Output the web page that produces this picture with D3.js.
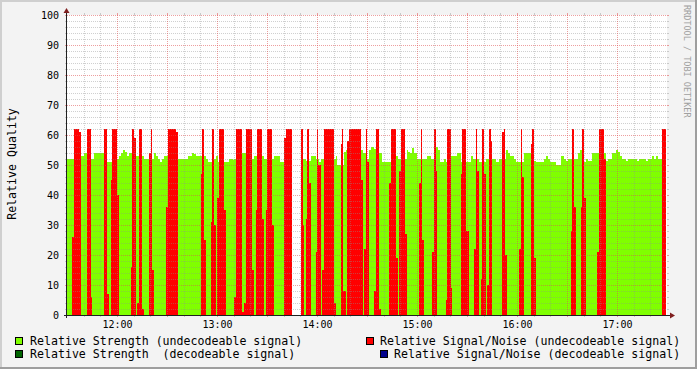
<!DOCTYPE html>
<html>
<head>
<meta charset="utf-8">
<script src="https://cdn.jsdelivr.net/npm/d3@7"></script>
<style>
  body { margin: 0; background: #f3f3f3; }
  text { font-family: "DejaVu Sans Mono", monospace; white-space: pre; }
</style>
</head>
<body>
<div id="chart"></div>
<script>
// [minutes after 11:30, value] -- each value holds until the next entry
var strengthSteps = [
  [0,52],[8.4,53],[10.2,54],[12,52],[16.4,54],[24,51],[30,52],[31.2,53],[32.4,54],[33.6,55],[34.8,54.3],[36,53],
  [37.2,54],[41.4,53],[46.2,52],[52.2,54],[53.4,53],[54.6,52],[55.8,51],[57,52],[58.2,53],[66.6,52],
  [72.6,53],[75,54],[76.2,53.7],[77.4,53],[83.4,52],[84.6,51],[88.2,52],[89.4,53],[90.6,51],[97,52],[99.4,51.7],
  [100.2,52],[105,54],[111,52],[112.2,53],[118.2,52],[124.2,53],[127.8,51],[135,0],[140.4,52],
  [143.4,51.3],[146.4,53],[149.4,52],[151.2,51],[152.4,52],[161.4,53],[162,50],[166.2,54.3],[167.4,55],[177.6,54],
  [180,52],[181.2,55],[182.4,56],[184.2,55.3],[187.2,54],[189,51],[197.4,53],[198.6,52],[204,55],[204.6,54.3],
  [205.8,54],[207,55.7],[208.2,54],[210,52],
  [216,53],[218.4,52],[221.4,56],[222.6,55],[223.8,51],[226.2,52],[227.4,51],[230.4,53],[234,54],[236.4,51],
  [242.4,53],[243.6,52],[247.2,51],[251.4,52],[257.4,51],[259.2,52],[263.4,55],[264.6,54],[265.8,53],[268.2,52],
  [269.4,51],[274.2,54],[280.2,51.3],[281.4,51],[286.2,52],
  [287.4,53],[288.6,52],[289.8,51],[293.4,50],[296.4,53],[298.2,52],[299.4,51.3],[300.6,52],[306.6,54],[307.8,55],
  [310.2,51],[311.4,52],[312.6,51.3],[315,54],[323.4,51.3],[324.6,52],[327,54],[329.4,55],[330.6,54.3],[331.8,53],
  [333,52],[335.4,51.3],[336.6,52],[342,51.3],[343.2,52],[347.4,51.3],[348.6,52],[351,53],[352.2,52],[353.4,53],
  [354.6,52],[359.4,52]
];

var snrSteps = [
  [0,0],[3,26],[4.2,62],[7.4,61],[8.4,0],[12,62],[14.4,6],[15,0],[22.2,62],[24,7],[25.2,0],[26.4,45],[27,62],
  [30,40],[31.2,0],[38.4,16],[39,62],[40.2,59],[41.4,0],[42,4],[43.2,62],[45,2],[46.2,0],[49.2,54],[50.4,62],
  [51,15],[52.2,0],[59.4,36],[60.6,62],[65.4,61],[66.6,0],
  [80.4,47],[81,62],[82.2,25],[83.4,0],[86.4,31],[87,62],[88.2,30],[89.4,0],[89.8,39],[91.2,62],[94.2,35],[95.4,0],
  [100.2,6],[101.4,62],[105,1],[106.2,4],[107.4,62],[110.8,15],[112.2,0],[113.4,35],[114,62],[117,32],[118.2,0],
  [119.4,35],[120,62],[123,30],[124.2,0],[130.2,59],[131.4,62],[135,0],[140.4,62],[141.4,30],[142.2,0],
  [143.4,32],[144,62],[145.2,44],[146.4,0],[149.4,21],[150,62],[150.6,50],[152.4,0],[153,15],[154.2,62],[160.2,4],
  [161.4,0],[164.4,57],[165,62],[165.6,8],[167.4,0],[168,58],[169.2,62],[176.4,45],[177.6,0],[178.2,22],[179.4,62],
  [180,51],[181.2,0],[184.2,8],[185.4,62],[187.2,2],[188.4,0],[193.2,44],[194.4,62],[197.4,19],[198.6,0],[199.2,48],
  [200.4,62],[202.8,27],[204,0],[211.2,44],[212.4,62],[213,25],[214.2,0],
  [219,21],[220.2,62],[221.4,48],[222,0],[227.4,5],[228,62],[230.4,9],[231,0],[236.4,47],[237,62],[239.4,28],
  [241.2,0],[244.2,22],[245.4,62],[246,48],[247.2,0],[248.4,12],[249,62],[250.2,47],[251.4,0],[252,10],[253.2,62],
  [254.4,58],[255,0],[261,61],[262.2,62],[262.8,20],[264,0],[271.2,22],[272.4,62],[273,46],[274.2,0],[278.4,57],
  [279,62],[280.2,19],[281.4,0],
  [302.4,28],[303,62],[304.2,36],[305.4,0],[308.4,36],[309,62],[310.2,39],[311.4,0],[318,21],[319.2,62],[322.2,52],
  [323.4,0],[357,62],[359.4,0]
];

var yTicks = [0, 10, 20, 30, 40, 50, 60, 70, 80, 90, 100];
var hourTicks = ["12:00", "13:00", "14:00", "15:00", "16:00", "17:00"];
var legendLabels = [
  "Relative Strength (undecodeable signal)",
  "Relative Signal/Noise (undecodeable signal)",
  "Relative Strength  (decodeable signal)",
  "Relative Signal/Noise (decodeable signal)"
];

var W = 697, H = 369;
var plotL = 67, plotR = 667, plotT = 15, plotB = 315;
var colors = ["#80ff00", "#ff0000", "#006400", "#00008b"];

var start = new Date(2011, 0, 1, 11, 30);
function t(m) { return new Date(+start + m * 60000); }
function hm(s) { var p = s.split(":"); return new Date(2011, 0, 1, +p[0], +p[1]); }

var x = d3.scaleTime().domain([start, t(360)]).range([plotL, plotR]);
var y = d3.scaleLinear().domain([0, 100]).range([plotB, plotT]);

var svg = d3.select("#chart").append("svg")
    .attr("width", W)
    .attr("height", H)
    .style("display", "block");

// frame
svg.append("rect").attr("width", W).attr("height", H).attr("fill", "#f3f3f3");
svg.append("path").attr("d", "M0,1H" + (W - 1) + "M1,0V" + (H - 1))
    .attr("stroke", "#cfcfcf").attr("stroke-width", 2);
svg.append("path").attr("d", "M0," + (H - 1) + "H" + W + "M" + (W - 1) + ",0V" + H)
    .attr("stroke", "#9e9e9e").attr("stroke-width", 2);

// canvas
svg.append("rect")
    .attr("x", plotL).attr("y", plotT)
    .attr("width", plotR - plotL).attr("height", plotB - plotT)
    .attr("fill", "#fff");

var area = d3.area()
    .curve(d3.curveStepAfter)
    .x(function(d) { return x(t(d[0])); })
    .y0(y(0))
    .y1(function(d) { return y(d[1]); });

svg.append("path").datum(strengthSteps)
    .attr("fill", colors[0])
    .attr("shape-rendering", "crispEdges")
    .attr("d", area);

svg.append("path").datum(snrSteps)
    .attr("fill", colors[1])
    .attr("shape-rendering", "crispEdges")
    .attr("d", area);

// grid, drawn on top like rrdtool does
var minorCol = "rgba(143,143,143,0.42)", majorCol = "rgba(222,80,80,0.55)";
var grid = svg.append("g").attr("shape-rendering", "crispEdges");

var minorX = x.ticks(d3.timeMinute.every(10)).filter(function(d) { return d.getMinutes() % 30 != 0; });
var majorX = x.ticks(d3.timeMinute.every(30)).filter(function(d) { return +d > +start && +d < +t(360); });
var minorY = d3.range(2, 100, 2).filter(function(v) { return v % 10 != 0; });
var majorY = yTicks.filter(function(v) { return v > 0; });

function vlines(vals, col) {
  vals.forEach(function(d) {
    var px = Math.round(x(d)) + 0.5;
    grid.append("line").attr("x1", px).attr("x2", px).attr("y1", plotT).attr("y2", plotB)
        .attr("stroke", col).attr("stroke-dasharray", "1,1");
    grid.append("line").attr("x1", px).attr("x2", px).attr("y1", plotB).attr("y2", plotB + 2)
        .attr("stroke", col);
    grid.append("line").attr("x1", px).attr("x2", px).attr("y1", plotT - 2).attr("y2", plotT)
        .attr("stroke", col);
  });
}
function hlines(vals, col) {
  vals.forEach(function(v) {
    var py = Math.round(y(v)) + 0.5;
    grid.append("line").attr("x1", plotL).attr("x2", plotR).attr("y1", py).attr("y2", py)
        .attr("stroke", col).attr("stroke-dasharray", "1,1");
    grid.append("line").attr("x1", plotL - 2).attr("x2", plotL).attr("y1", py).attr("y2", py)
        .attr("stroke", col);
    grid.append("line").attr("x1", plotR).attr("x2", plotR + 2).attr("y1", py).attr("y2", py)
        .attr("stroke", col);
  });
}
vlines(minorX, minorCol);
hlines(minorY, minorCol);
vlines(majorX, majorCol);
hlines(majorY, majorCol);

// axes lines + arrows
svg.append("line").attr("x1", plotL - 0.5).attr("x2", plotL - 0.5).attr("y1", 11).attr("y2", plotB + 3)
    .attr("stroke", "#202020");
svg.append("line").attr("x1", plotL - 3).attr("x2", plotR + 5).attr("y1", plotB + 0.5).attr("y2", plotB + 0.5)
    .attr("stroke", "#202020");
svg.append("path").attr("d", "M" + (plotL - 3.5) + ",13L" + (plotL - 0.5) + ",8L" + (plotL + 2.5) + ",13Z")
    .attr("fill", "#7f1f1f");
svg.append("path").attr("d", "M" + (plotR + 3) + "," + (plotB - 2.5) + "L" + (plotR + 8) + "," + (plotB + 0.5) +
    "L" + (plotR + 3) + "," + (plotB + 3.5) + "Z")
    .attr("fill", "#7f1f1f");

// tick labels
var yAxis = svg.append("g")
    .attr("transform", "translate(" + plotL + ",0)")
    .call(d3.axisLeft(y).tickValues(yTicks).tickSize(0).tickPadding(8).tickFormat(d3.format("d")));
yAxis.select(".domain").remove();
yAxis.selectAll("text").attr("font-family", "DejaVu Sans Mono").attr("font-size", 10).attr("fill", "#000");

var xAxis = svg.append("g")
    .attr("transform", "translate(0," + plotB + ")")
    .call(d3.axisBottom(x).tickValues(hourTicks.map(hm)).tickSize(0).tickPadding(6)
        .tickFormat(d3.timeFormat("%H:%M")));
xAxis.select(".domain").remove();
xAxis.selectAll("text").attr("font-family", "DejaVu Sans Mono").attr("font-size", 10).attr("fill", "#000");

// vertical title
svg.append("text")
    .attr("transform", "translate(15.5,164) rotate(-90)")
    .attr("text-anchor", "middle")
    .attr("font-size", 11.6)
    .text("Relative Quality");

// watermark
svg.append("text")
    .attr("transform", "translate(684,5) rotate(90)")
    .attr("font-size", 8.5)
    .attr("fill", "#a0a0a0")
    .text("RRDTOOL / TOBI OETIKER");

// legend
var legendPos = [[15, 30, 345], [366, 380, 345], [15, 30, 358], [380, 394, 358]];
legendLabels.forEach(function(label, i) {
  var p = legendPos[i];
  svg.append("rect")
      .attr("x", p[0] + 0.5).attr("y", p[2] - 7.5)
      .attr("width", 7).attr("height", 7)
      .attr("fill", colors[i]).attr("stroke", "#000");
  svg.append("text")
      .attr("x", p[1]).attr("y", p[2])
      .attr("font-size", 11.6)
      .text(label);
});
</script>
</body>
</html>
